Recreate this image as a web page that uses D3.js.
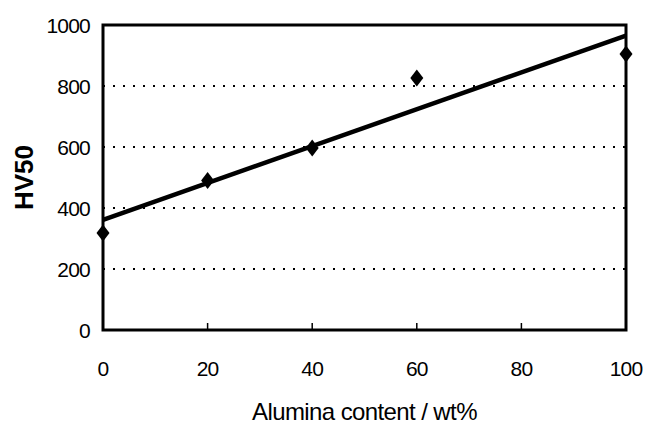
<!DOCTYPE html>
<html>
<head>
<meta charset="utf-8">
<script src="https://cdn.jsdelivr.net/npm/d3@7"></script>
<style>
  body { margin: 0; background: #fff; }
  text { font-family: "Liberation Sans", Arial, sans-serif; fill: #000; }
</style>
</head>
<body>
<div id="chart"></div>
<script>
// Data
const alumina = [0, 20, 40, 60, 100];
const hardness = [318, 490, 597, 826, 905];
const xTicks = [0, 20, 40, 60, 80, 100];
const yTicks = [0, 200, 400, 600, 800, 1000];
const gridValues = [200, 400, 600, 800];

// Margin convention
let margin = {top: 25, right: 19, bottom: 94, left: 103};
let width = 645 - margin.left - margin.right;
let height = 424 - margin.top - margin.bottom;

let xScale = d3.scaleLinear().domain([0, 100]).range([0, width]);
let yScale = d3.scaleLinear().domain([0, 1000]).range([height, 0]);

// least squares trend line
let mx = d3.mean(alumina), my = d3.mean(hardness);
let sxy = d3.sum(alumina, (x, i) => (x - mx) * (hardness[i] - my));
let sxx = d3.sum(alumina, x => (x - mx) * (x - mx));
let slope = sxy / sxx;
let intercept = my - slope * mx;
let fit = [0, 100].map(x => ({x: x, y: intercept + slope * x}));

let svg = d3.select('#chart').append('svg')
    .attr('width', 645)
    .attr('height', 424)
    .append('g')
    .attr('transform', 'translate(' + margin.left + ',' + margin.top + ')');

// dotted gridlines
svg.selectAll('.grid')
    .data(gridValues)
    .enter().append('line')
    .attr('x1', 0).attr('x2', width)
    .attr('y1', d => yScale(d)).attr('y2', d => yScale(d))
    .attr('stroke', '#000')
    .attr('stroke-width', 2)
    .attr('stroke-dasharray', '2,8');

// x ticks pointing inward
svg.selectAll('.xtick')
    .data(xTicks.slice(1, -1))
    .enter().append('line')
    .attr('x1', d => xScale(d)).attr('x2', d => xScale(d))
    .attr('y1', height).attr('y2', height - 7)
    .attr('stroke', '#000')
    .attr('stroke-width', 1.5);

// frame
svg.append('rect')
    .attr('width', width)
    .attr('height', height)
    .attr('fill', 'none')
    .attr('stroke', '#000')
    .attr('stroke-width', 3);

// data points (diamonds)
svg.selectAll('.dot')
    .data(alumina)
    .enter().append('path')
    .attr('transform', (d, i) => 'translate(' + xScale(d) + ',' + yScale(hardness[i]) + ')')
    .attr('d', 'M0,-8.5L6.5,0L0,8.5L-6.5,0Z')
    .attr('fill', '#000');

// trend line
let line = d3.line()
    .x(d => xScale(d.x))
    .y(d => yScale(d.y));

svg.append('path')
    .datum(fit)
    .attr('d', line)
    .attr('fill', 'none')
    .attr('stroke', '#000')
    .attr('stroke-width', 4.5);

// tick labels
svg.selectAll('.xlabel')
    .data(xTicks)
    .enter().append('text')
    .attr('x', d => xScale(d))
    .attr('y', height + 46)
    .attr('text-anchor', 'middle')
    .style('font-size', '21px')
    .style('letter-spacing', '-0.8px')
    .text(d => d);

svg.selectAll('.ylabel')
    .data(yTicks)
    .enter().append('text')
    .attr('x', -13)
    .attr('y', d => yScale(d))
    .attr('dy', '0.36em')
    .attr('text-anchor', 'end')
    .style('font-size', '21px')
    .style('letter-spacing', '-0.8px')
    .text(d => d);

// axis titles
svg.append('text')
    .attr('x', width / 2)
    .attr('y', height + 90)
    .attr('text-anchor', 'middle')
    .style('font-size', '24px')
    .style('letter-spacing', '-0.6px')
    .text('Alumina content / wt%');

svg.append('text')
    .attr('transform', 'translate(' + (-70) + ',' + (height / 2) + ') rotate(-90)')
    .attr('text-anchor', 'middle')
    .style('font-size', '26px')
    .style('font-weight', 'bold')
    .text('HV50');
</script>
</body>
</html>
